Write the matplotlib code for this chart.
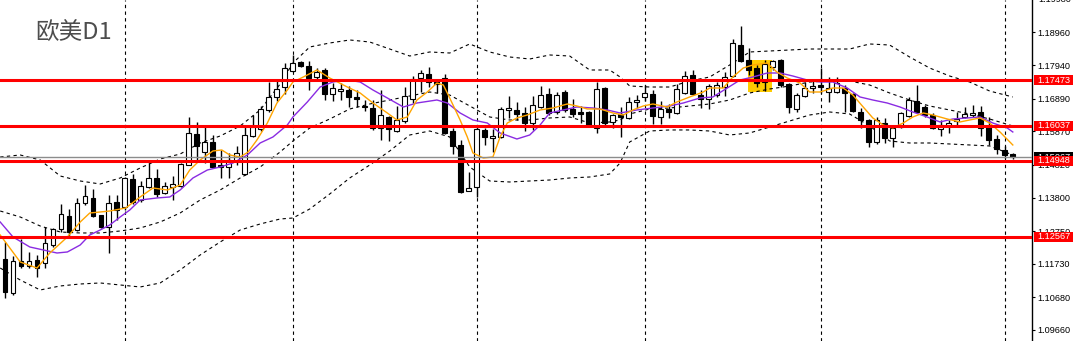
import matplotlib
matplotlib.use("Agg")
import matplotlib.pyplot as plt
import matplotlib.transforms as mtransforms
from matplotlib.patches import Rectangle

# daily candles, EURUSD
opens = [
    1.11879, 1.10816, 1.11816, 1.11660, 1.11847, 1.11754, 1.12316, 1.12817, 1.13223, 1.12785,
    1.13629, 1.13786, 1.13254, 1.12879, 1.13660, 1.13504, 1.14379, 1.13723, 1.14129, 1.14411,
    1.13942, 1.14129, 1.14161, 1.14817, 1.15787, 1.15224, 1.15537, 1.14817, 1.14755, 1.14942,
    1.14536, 1.15724, 1.15943, 1.16537, 1.16943, 1.17255, 1.17756, 1.18037, 1.17912, 1.17568,
    1.17787, 1.17037, 1.17130, 1.17162, 1.16943, 1.16662, 1.16599, 1.15974, 1.16318, 1.15880,
    1.16193, 1.16880, 1.17537, 1.17662, 1.17443, 1.17537, 1.15880, 1.15443, 1.14004, 1.14129,
    1.15912, 1.15662, 1.15693, 1.16537, 1.16537, 1.16443, 1.16130, 1.16630, 1.17037, 1.16474,
    1.17099, 1.16568, 1.16474, 1.16474, 1.15974, 1.17224, 1.16162, 1.16412, 1.16287, 1.16787,
    1.16943, 1.17037, 1.16318, 1.16568, 1.16443, 1.17068, 1.17630, 1.17005, 1.16880, 1.17005,
    1.17255, 1.17599, 1.18568, 1.18099, 1.17849, 1.17412, 1.17881, 1.18099, 1.17349, 1.16568,
    1.16974, 1.17224, 1.17318, 1.17099, 1.17099, 1.17224, 1.17037, 1.16474, 1.16224, 1.15537,
    1.16130, 1.15662, 1.16005, 1.16349, 1.16818, 1.16630, 1.16380, 1.15943, 1.16037, 1.16193,
    1.16318, 1.16380, 1.16474, 1.16005, 1.15630, 1.15287, 1.15161]
highs = [
    1.12410, 1.11972, 1.12504, 1.12098, 1.12004, 1.12879, 1.12848, 1.13598, 1.13442, 1.13786,
    1.14192, 1.14067, 1.13254, 1.13879, 1.13879, 1.14442, 1.14536, 1.14317, 1.14880, 1.14692,
    1.14286, 1.14473, 1.14880, 1.16318, 1.16162, 1.16037, 1.15755, 1.15287, 1.15193, 1.15412,
    1.16068, 1.16380, 1.16662, 1.17412, 1.17474, 1.18006, 1.18256, 1.18068, 1.18068, 1.17849,
    1.17849, 1.17380, 1.17380, 1.17287, 1.17162, 1.16849, 1.16849, 1.17162, 1.16349, 1.16662,
    1.17255, 1.17599, 1.17787, 1.17881, 1.17505, 1.17662, 1.15974, 1.15599, 1.14598, 1.16005,
    1.15974, 1.15943, 1.16630, 1.16974, 1.16787, 1.16630, 1.16974, 1.17287, 1.17224, 1.17099,
    1.17162, 1.16880, 1.16662, 1.16505, 1.17412, 1.17255, 1.16412, 1.16630, 1.16943, 1.17005,
    1.17318, 1.17162, 1.16818, 1.16724, 1.17349, 1.17756, 1.17787, 1.17162, 1.17349, 1.17412,
    1.17724, 1.18756, 1.19162, 1.18475, 1.17943, 1.18099, 1.18099, 1.18131, 1.17380, 1.17068,
    1.17412, 1.17474, 1.17849, 1.17568, 1.17568, 1.17318, 1.17068, 1.16599, 1.16255, 1.16318,
    1.16287, 1.16037, 1.16474, 1.16943, 1.17318, 1.16693, 1.16443, 1.16224, 1.16224, 1.16474,
    1.16630, 1.16693, 1.16662, 1.16318, 1.15755, 1.15412, 1.15193]
lows = [
    1.10660, 1.10753, 1.11597, 1.11597, 1.11316, 1.11597, 1.12254, 1.12723, 1.12567, 1.12754,
    1.13567, 1.13192, 1.12848, 1.12066, 1.13098, 1.13410, 1.13598, 1.13660, 1.14098, 1.13817,
    1.13911, 1.13723, 1.14129, 1.14817, 1.14974, 1.14880, 1.14723, 1.14411, 1.14411, 1.14817,
    1.14505, 1.15693, 1.15880, 1.16474, 1.16818, 1.17037, 1.17724, 1.17881, 1.17162, 1.17474,
    1.16849, 1.16818, 1.16849, 1.16630, 1.16630, 1.16505, 1.15912, 1.15599, 1.15568, 1.15849,
    1.16130, 1.16755, 1.17099, 1.17255, 1.17068, 1.15787, 1.15161, 1.13942, 1.14004, 1.13817,
    1.15443, 1.15224, 1.15662, 1.16287, 1.16224, 1.15880, 1.15912, 1.16599, 1.16380, 1.16412,
    1.16474, 1.16318, 1.16130, 1.16005, 1.15818, 1.16005, 1.15974, 1.15693, 1.16255, 1.16599,
    1.16818, 1.16099, 1.16099, 1.16287, 1.16412, 1.17037, 1.17005, 1.16599, 1.16568, 1.16943,
    1.16974, 1.17568, 1.18037, 1.17630, 1.17255, 1.17130, 1.17787, 1.17255, 1.16443, 1.16474,
    1.16943, 1.17068, 1.17068, 1.16787, 1.17068, 1.16474, 1.16474, 1.15974, 1.15380, 1.15474,
    1.15505, 1.15380, 1.15974, 1.16318, 1.16443, 1.16318, 1.15943, 1.15724, 1.15818, 1.16005,
    1.16287, 1.16318, 1.15724, 1.15443, 1.15161, 1.15036, 1.15005]
closes = [
    1.10847, 1.11816, 1.11660, 1.11816, 1.11597, 1.12379, 1.12817, 1.13285, 1.12723, 1.13629,
    1.13848, 1.13223, 1.12879, 1.13629, 1.13410, 1.14411, 1.13660, 1.14161, 1.14411, 1.13911,
    1.14161, 1.14223, 1.14849, 1.15818, 1.15412, 1.15537, 1.14755, 1.14755, 1.14974, 1.15193,
    1.15755, 1.16005, 1.16568, 1.16943, 1.17193, 1.17849, 1.18006, 1.17912, 1.17537, 1.17724,
    1.17037, 1.17224, 1.17193, 1.16943, 1.16880, 1.16630, 1.15974, 1.16380, 1.15943, 1.16224,
    1.16974, 1.17505, 1.17693, 1.17412, 1.17349, 1.15818, 1.15412, 1.13973, 1.14098, 1.15943,
    1.15693, 1.15724, 1.16568, 1.16599, 1.16412, 1.16130, 1.16693, 1.17005, 1.16443, 1.17005,
    1.16537, 1.16412, 1.16412, 1.16068, 1.17193, 1.16130, 1.16380, 1.16318, 1.16787, 1.16849,
    1.17068, 1.16349, 1.16568, 1.16474, 1.17193, 1.17599, 1.17037, 1.16880, 1.17287, 1.17318,
    1.17568, 1.18631, 1.18068, 1.17787, 1.17380, 1.17974, 1.18068, 1.17318, 1.16630, 1.17005,
    1.17224, 1.17287, 1.17255, 1.17224, 1.17380, 1.17068, 1.16505, 1.16224, 1.15537, 1.16224,
    1.15662, 1.15974, 1.16443, 1.16849, 1.16474, 1.16380, 1.15974, 1.16068, 1.16130, 1.16255,
    1.16412, 1.16443, 1.15974, 1.15599, 1.15318, 1.15130, 1.15067]

# moving averages (bar position, price)
fast_bar = [-0.6, 1.9, 4.0, 5.6, 7.8, 9.4, 10.6, 11.9, 13.1, 15.1, 16.9, 18.5, 20.3, 21.9, 23.1,
            24.4, 26.0, 27.1, 28.1, 29.4, 30.4, 31.5, 32.8, 34.0, 35.3, 36.0, 37.3, 39.0, 40.6,
            42.8, 44.4, 46.0, 47.8, 49.0, 50.3, 51.5, 52.8, 54.0, 54.8, 55.6, 56.9, 57.8, 58.5,
            59.8, 61.0, 61.9, 62.8, 64.0, 65.3, 66.9, 68.5, 70.3, 71.5, 72.8, 74.4, 76.0, 77.3,
            78.5, 79.8, 81.0, 82.8, 84.0, 85.6, 87.3, 88.1, 89.8, 91.0, 92.3, 93.5, 95.3, 96.5,
            97.8, 99.4, 100.6, 101.9, 103.5, 104.8, 106.0, 107.3, 108.5, 109.8, 111.0, 112.3,
            113.5, 114.8, 116.0, 117.8, 119.4, 120.6, 121.9, 123.1, 124.4, 126.0]
fast_ma = [1.12629, 1.11785, 1.11597, 1.12066, 1.12567, 1.13035, 1.13317, 1.13348, 1.13379,
           1.13473, 1.13817, 1.14098, 1.14036, 1.14192, 1.14661, 1.14974, 1.15255, 1.15287,
           1.15130, 1.15067, 1.15224, 1.15599, 1.16130, 1.16755, 1.17162, 1.17412, 1.17568,
           1.17787, 1.17537, 1.17255, 1.17068, 1.16755, 1.16443, 1.16224, 1.16318, 1.16849,
           1.17099, 1.17380, 1.17318, 1.16912, 1.16224, 1.15693, 1.15193, 1.15036, 1.15067,
           1.15693, 1.16130, 1.16287, 1.16380, 1.16537, 1.16599, 1.16724, 1.16662, 1.16568,
           1.16568, 1.16443, 1.16380, 1.16537, 1.16662, 1.16724, 1.16630, 1.16787, 1.16943,
           1.17099, 1.17224, 1.17224, 1.17568, 1.17849, 1.17943, 1.18006, 1.17724, 1.17537,
           1.17380, 1.17099, 1.17099, 1.17224, 1.17224, 1.17005, 1.16630, 1.16287, 1.16068,
           1.15974, 1.16130, 1.16318, 1.16443, 1.16380, 1.16255, 1.16162, 1.16224, 1.16287,
           1.16130, 1.15849, 1.15443]
slow_bar = [-0.6, 1.0, 3.1, 4.8, 6.5, 7.8, 9.4, 10.6, 11.9, 13.1, 14.4, 15.6, 16.9, 19.0, 20.6,
            21.9, 23.5, 25.3, 26.9, 28.5, 30.3, 31.9, 33.5, 35.3, 36.0, 37.8, 39.4, 41.0, 42.8,
            44.4, 46.0, 47.8, 49.8, 51.5, 54.0, 55.3, 56.9, 58.5, 60.3, 61.9, 64.0, 65.6, 66.9,
            68.1, 69.8, 71.5, 73.5, 75.3, 76.9, 79.0, 81.0, 83.1, 84.8, 86.9, 88.5, 90.3, 91.9,
            93.5, 95.3, 96.9, 98.5, 100.3, 101.9, 103.5, 105.3, 106.9, 108.5, 110.3, 111.9,
            113.5, 115.3, 116.9, 118.5, 120.3, 121.9, 123.5, 125.3, 126.0]
slow_ma = [1.13035, 1.12567, 1.12254, 1.12160, 1.12066, 1.12098, 1.12316, 1.12629, 1.12785,
           1.12942, 1.13192, 1.13410, 1.13723, 1.13786, 1.13817, 1.14036, 1.14411, 1.14661,
           1.14755, 1.14880, 1.15130, 1.15505, 1.15693, 1.16068, 1.16318, 1.16787, 1.17255,
           1.17412, 1.17474, 1.17412, 1.17162, 1.16912, 1.16630, 1.16755, 1.16849, 1.16755,
           1.16443, 1.16224, 1.16130, 1.15818, 1.15630, 1.15755, 1.16068, 1.16443, 1.16537,
           1.16630, 1.16599, 1.16537, 1.16443, 1.16537, 1.16599, 1.16662, 1.16755, 1.16912,
           1.16943, 1.17224, 1.17474, 1.17568, 1.17693, 1.17693, 1.17599, 1.17474, 1.17412,
           1.17412, 1.17224, 1.16943, 1.16849, 1.16755, 1.16630, 1.16474, 1.16318, 1.16162,
           1.16255, 1.16287, 1.16318, 1.16130, 1.15974, 1.15849]

# bollinger bands
band_bar = [-0.6, 1.9, 4.4, 6.9, 9.4, 11.9, 14.4, 16.9, 19.4, 21.9, 24.4, 26.9, 29.4, 31.9, 34.4,
            36.0, 38.1, 40.6, 43.1, 45.6, 48.1, 50.6, 53.1, 55.6, 58.1, 60.6, 63.1, 65.6, 68.1,
            70.6, 73.1, 75.6, 76.9, 78.1, 80.6, 83.1, 85.6, 88.1, 90.6, 93.1, 95.6, 98.1, 100.6,
            103.1, 105.6, 108.1, 110.6, 113.1, 115.6, 118.1, 120.6, 123.1, 126.0]
band_upper = [1.15067, 1.15130, 1.14974, 1.14473, 1.14317, 1.14223, 1.14411, 1.14723, 1.15005,
              1.15161, 1.15505, 1.15724, 1.16037, 1.16537, 1.17349, 1.18006, 1.18506, 1.18631,
              1.18725, 1.18662, 1.18443, 1.18224, 1.18350, 1.18318, 1.18600, 1.18350, 1.18193,
              1.18131, 1.18256, 1.18224, 1.17787, 1.17787, 1.17568, 1.17287, 1.17255, 1.17255,
              1.17443, 1.17568, 1.17943, 1.18350, 1.18381, 1.18412, 1.18443, 1.18443, 1.18443,
              1.18600, 1.18568, 1.18193, 1.17849, 1.17599, 1.17412, 1.17130, 1.16943]
band_mid = [1.13379, 1.13192, 1.12910, 1.12723, 1.12692, 1.12692, 1.12754, 1.12848, 1.13035,
            1.13317, 1.13723, 1.14036, 1.14411, 1.14755, 1.15224, 1.15568, 1.15974, 1.16255,
            1.16568, 1.16724, 1.16849, 1.16974, 1.17099, 1.17005, 1.16662, 1.16318, 1.16224,
            1.16224, 1.16287, 1.16318, 1.16130, 1.16162, 1.16224, 1.16412, 1.16568, 1.16599,
            1.16662, 1.16724, 1.16849, 1.17068, 1.17193, 1.17287, 1.17412, 1.17443, 1.17443,
            1.17318, 1.17068, 1.16849, 1.16662, 1.16537, 1.16412, 1.16255, 1.16037]
band_lower = [1.11597, 1.11222, 1.10910, 1.11035, 1.11097, 1.11129, 1.11066, 1.11004, 1.11129,
              1.11535, 1.12004, 1.12410, 1.12785, 1.12973, 1.13129, 1.13160, 1.13442, 1.13911,
              1.14411, 1.14817, 1.15255, 1.15755, 1.15880, 1.15693, 1.14755, 1.14317, 1.14286,
              1.14317, 1.14348, 1.14411, 1.14442, 1.14536, 1.14880, 1.15536, 1.15880, 1.15912,
              1.15912, 1.15880, 1.15755, 1.15818, 1.16005, 1.16193, 1.16380, 1.16474, 1.16412,
              1.16037, 1.15568, 1.15505, 1.15505, 1.15474, 1.15443, 1.15412, 1.15130]

levels = [1.17473, 1.16037, 1.14948, 1.12567]
month_starts = [15, 36, 59, 80, 102, 125]
highlight_bars = (92.9, 95.9)
highlight_prices = (1.17099, 1.18099)
price_ticks = [1.18960, 1.17940, 1.16890, 1.15870, 1.14820, 1.13800, 1.12750,
               1.11730, 1.10680, 1.09660]
top_tick = 1.19980

W, H = 1077, 341
AX_W = 1032
LABEL_SIZE = 6.6
plt.rcParams['font.family'] = ['Liberation Sans', 'DejaVu Sans']

fig = plt.figure(figsize=(W / 100, H / 100), dpi=100)
ax = fig.add_axes([0, 0, AX_W / W, 1])
ax.set_xlim(-0.625, 128.4)
ax.set_ylim(1.09315, 1.19975)

dash = (0, (3, 3))

# period separators
for b in month_starts:
    ax.axvline(b, color='black', lw=0.8, ls=dash, zorder=1)

# highlight box
ax.add_patch(Rectangle((highlight_bars[0], highlight_prices[0]),
                       highlight_bars[1] - highlight_bars[0],
                       highlight_prices[1] - highlight_prices[0],
                       facecolor='#FFCC00', edgecolor='none', zorder=2))

# bollinger
for band in (band_upper, band_mid, band_lower):
    ax.plot(band_bar, band, color='black', lw=0.8, ls=dash, zorder=2.5)

# candles
bars = list(range(len(opens)))
bull = [c > o for o, c in zip(opens, closes)]
ax.vlines(bars, lows, highs, color='black', lw=1, zorder=3)
bottoms = [min(o, c) for o, c in zip(opens, closes)]
heights = [max(abs(c - o), 0.00004) for o, c in zip(opens, closes)]
ax.bar(bars, heights, width=0.62, bottom=bottoms,
       color=['white' if u else 'black' for u in bull],
       edgecolor='black', linewidth=0.8, zorder=4)

# moving averages
ax.plot(slow_bar, slow_ma, color='#8A2BE2', lw=1, zorder=5)
ax.plot(fast_bar, fast_ma, color='#FFA500', lw=1, zorder=5.2)

# current price line
last = closes[-1]
ax.axhline(last, color='#8c8c8c', lw=1, zorder=5.5)

# support / resistance lines
for p in levels:
    ax.axhline(p, color='#FF0000', lw=2.2, zorder=6)

# price scale on the right
ax.yaxis.tick_right()
ax.set_yticks(price_ticks)
ax.set_yticklabels([f"{t:.5f}" for t in price_ticks])
ax.tick_params(axis='y', length=2.2, width=0.8, labelsize=LABEL_SIZE, pad=2, colors='black')
ax.set_xticks([])
for s in ('top', 'left', 'bottom'):
    ax.spines[s].set_visible(False)
ax.spines['right'].set_linewidth(1)

trans = mtransforms.blended_transform_factory(ax.transAxes, ax.transData)
ax.text(1 + 6 / AX_W, top_tick, f"{top_tick:.5f}", transform=trans, fontsize=LABEL_SIZE,
        va='center', ha='left', clip_on=False)

box_h = 9.5 * (1.19975 - 1.09315) / H


def price_label(p, face, z):
    ax.add_patch(Rectangle((1 + 1.5 / AX_W, p - box_h / 2), 39.5 / AX_W, box_h, transform=trans,
                           facecolor=face, edgecolor='none', clip_on=False, zorder=z))
    ax.text(1 + 5.5 / AX_W, p, f"{p:.5f}", transform=trans, fontsize=LABEL_SIZE, color='white',
            va='center', ha='left', clip_on=False, zorder=z + 0.1)


price_label(last, 'black', 7)
for p in levels:
    price_label(p, '#FF0000', 8)

fig.text(35 / W, 1 - 33 / H, '欧美D1', fontsize=17, color='#4d4d4d', va='center', ha='left',
         family=['Noto Sans CJK SC', 'DejaVu Sans'])

fig.savefig('out.png', dpi=100)
